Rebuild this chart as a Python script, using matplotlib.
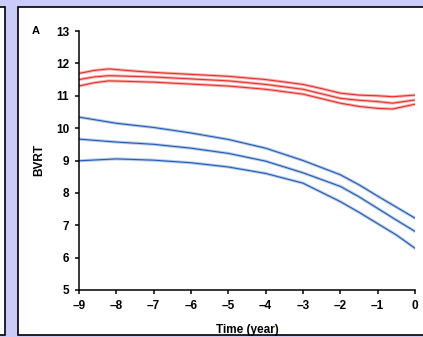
import matplotlib
matplotlib.use('Agg')
import matplotlib.pyplot as plt
from matplotlib.patches import Rectangle

# Data (BVRT vs time before diagnosis)
t_red = [-9, -8.6, -8.2, -7.6, -7, -6, -5, -4, -3, -2.5, -2, -1.5, -1, -0.6, 0]
red_upper = [11.69, 11.78, 11.83, 11.77, 11.72, 11.66, 11.6, 11.5, 11.35, 11.22, 11.08, 11.02, 11.0, 10.97, 11.02]
red_mid = [11.5, 11.58, 11.62, 11.6, 11.58, 11.52, 11.46, 11.35, 11.2, 11.06, 10.92, 10.86, 10.82, 10.77, 10.87]
red_lower = [11.3, 11.4, 11.46, 11.44, 11.42, 11.36, 11.3, 11.2, 11.05, 10.91, 10.77, 10.67, 10.61, 10.59, 10.74]

t_blue = [-9, -8, -7, -6, -5, -4, -3, -2, -1.5, -1, -0.5, 0]
blue_upper = [10.34, 10.15, 10.02, 9.85, 9.65, 9.38, 9.0, 8.56, 8.25, 7.9, 7.56, 7.22]
blue_mid = [9.66, 9.57, 9.5, 9.38, 9.22, 8.98, 8.62, 8.2, 7.88, 7.52, 7.16, 6.81]
blue_lower = [8.99, 9.05, 9.01, 8.93, 8.8, 8.6, 8.3, 7.73, 7.4, 7.05, 6.7, 6.29]

x_ticks = [-9, -8, -7, -6, -5, -4, -3, -2, -1, 0]
x_labels = ['\u20139', '\u20138', '\u20137', '\u20136', '\u20135', '\u20134', '\u20133', '\u20132', '\u20131', '0']
y_ticks = [5, 6, 7, 8, 9, 10, 11, 12, 13]

plt.rcParams['font.family'] = ['Liberation Sans', 'DejaVu Sans']
plt.rcParams['font.weight'] = 'bold'

W, H = 423, 337
fig = plt.figure(figsize=(W / 100, H / 100), dpi=100)
fig.patch.set_facecolor('#cbcbf9')

# page frame: neighbouring panel on the left and the white panel
fig.add_artist(Rectangle((-10 / W, 2 / H), 15 / W, 328 / H, transform=fig.transFigure,
                         facecolor='white', edgecolor='black', lw=1.2, zorder=-5))
fig.add_artist(Rectangle((18 / W, 2 / H), 420 / W, 328 / H, transform=fig.transFigure,
                         facecolor='white', edgecolor='black', lw=1.2, zorder=-5))

ax = fig.add_axes([79 / W, 1 - 290 / H, 336 / W, 259 / H])
ax.set_facecolor('none')

for ys in (red_upper, red_mid, red_lower):
    ax.plot(t_red, ys, color='#f6b4b4', lw=2.2, solid_capstyle='round')
    ax.plot(t_red, ys, color='#e8322c', lw=0.8)
for ys in (blue_upper, blue_mid, blue_lower):
    ax.plot(t_blue, ys, color='#b9c9e8', lw=2.2, solid_capstyle='round')
    ax.plot(t_blue, ys, color='#1f5fb5', lw=0.8)

ax.set_xlim(-9, 0)
ax.set_ylim(5, 13)
ax.set_xticks(x_ticks)
ax.set_xticklabels(x_labels)
ax.set_yticks(y_ticks)
for s in ('top', 'right'):
    ax.spines[s].set_visible(False)
for s in ('left', 'bottom'):
    ax.spines[s].set_linewidth(1.1)
ax.tick_params(direction='out', length=3, width=1.1, labelsize=8.5, pad=4)
for lab in ax.get_xticklabels() + ax.get_yticklabels():
    lab.set_fontweight('bold')

ax.set_ylabel('BVRT', fontsize=8.5, fontweight='bold', labelpad=8)
ax.set_xlabel('Time (year)', fontsize=8.5, fontweight='bold', labelpad=9)
fig.text(36 / W, 1 - 31 / H, 'A', fontsize=8, fontweight='bold', ha='center', va='center')

fig.savefig('out.png', dpi=100)
